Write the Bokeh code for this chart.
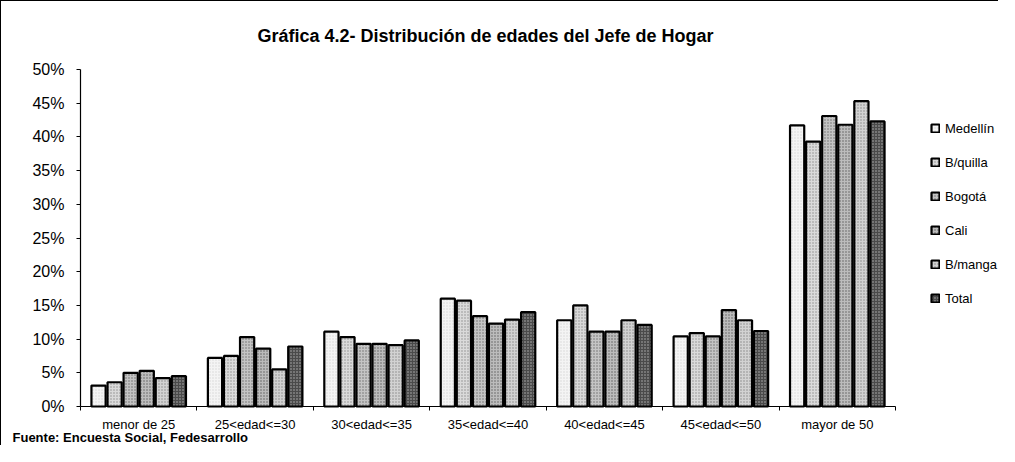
from bokeh.plotting import figure
from bokeh.models import (Range1d, FixedTicker, Legend, LegendItem, Label,
                          LinearAxis, NumeralTickFormatter)
from bokeh.embed import file_html
from bokeh.resources import INLINE

# ---- data ----
categories = ["menor de 25", "25<edad<=30", "30<edad<=35", "35<edad<=40",
              "40<edad<=45", "45<edad<=50", "mayor de 50"]
series = ["Medellín", "B/quilla", "Bogotá", "Cali", "B/manga", "Total"]
medellin = [0.031, 0.072, 0.111, 0.160, 0.128, 0.104, 0.417]
bquilla  = [0.036, 0.075, 0.103, 0.157, 0.150, 0.109, 0.393]
bogota   = [0.050, 0.103, 0.093, 0.134, 0.111, 0.104, 0.431]
cali     = [0.053, 0.086, 0.093, 0.123, 0.111, 0.143, 0.418]
bmanga   = [0.042, 0.055, 0.091, 0.129, 0.128, 0.128, 0.453]
total    = [0.045, 0.089, 0.098, 0.140, 0.121, 0.112, 0.423]
values = [medellin, bquilla, bogota, cali, bmanga, total]
y_ticks = [0.0, 0.05, 0.10, 0.15, 0.20, 0.25, 0.30, 0.35, 0.40, 0.45, 0.50]
title_text = "Gráfica 4.2- Distribución de edades del Jefe de Hogar"
source_text = "Fuente: Encuesta Social, Fedesarrollo"

fills = ["#f4f4f4", "#dadada", "#c4c4c4", "#bcbcbc", "#d2d2d2", "#4a4a4a"]
hatch_alpha = [0.12, 0.35, 0.45, 0.5, 0.35, 0.6]
hatch_col = ["black", "black", "black", "black", "black", "white"]

FONT = "Liberation Sans"

# ---- layout (pixels) ----
W, H = 998, 445
ncat = len(categories)
X0_PX = 79          # pixel column of the y axis
CAT_PX = 116.43     # width of one category
Y0_PX = 405         # pixel row of 0 %
YTOP_PX = 68        # pixel row of 50 %
y_max = y_ticks[-1]
px_per_y = (Y0_PX - YTOP_PX) / y_max

x_range = Range1d(-X0_PX / CAT_PX, (W - X0_PX) / CAT_PX)
y_range = Range1d(-(H - Y0_PX) / px_per_y, y_max + YTOP_PX / px_per_y)

p = figure(width=W, height=H, output_backend="svg", toolbar_location=None,
           x_range=x_range, y_range=y_range,
           x_axis_location=None, y_axis_location=None,
           min_border=0, min_border_left=0, min_border_right=0,
           min_border_top=0, min_border_bottom=0)
p.outline_line_color = None
p.grid.visible = False
p.background_fill_color = "white"
p.border_fill_color = "white"

n = len(series)
step = 0.138
bw = 0.122
renderers = []
for j, (name, vals) in enumerate(zip(series, values)):
    xs = [i + 0.5 + (j - (n - 1) / 2) * step for i in range(ncat)]
    r = p.vbar(x=xs, top=vals, bottom=0, width=bw,
               fill_color=fills[j], line_color="black", line_width=2.2,
               hatch_pattern="dot", hatch_scale=3, hatch_color=hatch_col[j],
               hatch_alpha=hatch_alpha[j])
    renderers.append(r)

# x axis, fixed at 0 %
xaxis = LinearAxis(fixed_location=0, bounds=(0, ncat))
xaxis.ticker = FixedTicker(ticks=[i + 0.5 for i in range(ncat)],
                           minor_ticks=list(range(ncat + 1)))
xaxis.major_label_overrides = {i + 0.5: c for i, c in enumerate(categories)}
xaxis.major_tick_out = 0
xaxis.major_tick_in = 0
xaxis.minor_tick_out = 4
xaxis.minor_tick_in = 0
xaxis.axis_line_color = "black"
xaxis.axis_line_width = 1.2
xaxis.major_label_text_font = FONT
xaxis.major_label_text_font_size = "13px"
xaxis.major_label_text_color = "black"
xaxis.major_label_standoff = 6
p.add_layout(xaxis, "below")

# y axis, fixed at the left edge of the first category
yaxis = LinearAxis(fixed_location=0, bounds=(0, y_max))
yaxis.ticker = FixedTicker(ticks=y_ticks, minor_ticks=[])
yaxis.formatter = NumeralTickFormatter(format="0%")
yaxis.major_tick_out = 4
yaxis.major_tick_in = 0
yaxis.minor_tick_out = 0
yaxis.minor_tick_in = 0
yaxis.axis_line_color = "black"
yaxis.axis_line_width = 1.2
yaxis.major_label_text_font = FONT
yaxis.major_label_text_font_size = "16px"
yaxis.major_label_text_color = "black"
yaxis.major_label_standoff = 12
p.add_layout(yaxis, "left")

# legend
legend = Legend(items=[LegendItem(label=s, renderers=[r]) for s, r in zip(series, renderers)],
                location=(929, 138), orientation="vertical",
                glyph_width=10, glyph_height=10, label_height=20, spacing=14,
                padding=0, margin=0, label_standoff=5,
                border_line_alpha=0, background_fill_alpha=0,
                label_text_font=FONT, label_text_font_size="13px",
                label_text_color="black")
p.add_layout(legend)

# title and source note
p.add_layout(Label(x=484, y=H - 34, x_units="screen", y_units="screen",
                   text=title_text, text_font=FONT, text_font_size="18px",
                   text_font_style="bold", text_align="center",
                   text_baseline="middle", text_color="black"))
p.add_layout(Label(x=11, y=H - 436, x_units="screen", y_units="screen",
                   text=source_text, text_font=FONT, text_font_size="13px",
                   text_font_style="bold", text_align="left",
                   text_baseline="middle", text_color="black"))

p.styles = {"border-left": "1px solid black", "border-top": "1px solid black"}

open("out.html", "w").write(file_html(p, INLINE))
